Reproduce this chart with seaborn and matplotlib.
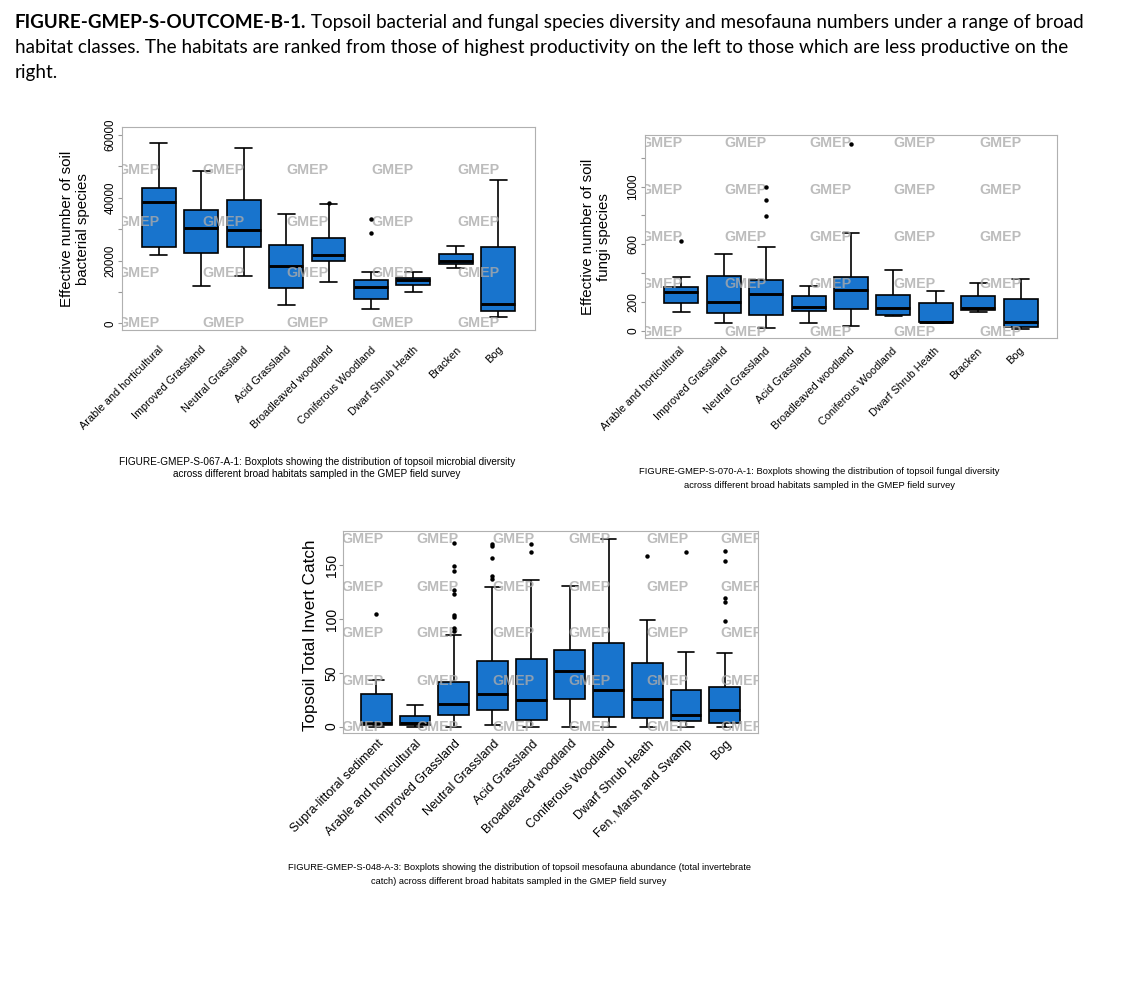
import pandas as pd
import seaborn as sns
import matplotlib.pyplot as plt
from matplotlib.transforms import blended_transform_factory, ScaledTranslation

W, H = 1125, 992
BLUE = "#1874CD"

bact_habitats = ["Arable and horticultural", "Improved Grassland", "Neutral Grassland",
                 "Acid Grassland", "Broadleaved woodland", "Coniferous Woodland",
                 "Dwarf Shrub Heath", "Bracken", "Bog"]
bact_low = [21600, 12000, 15100, 5700, 13300, 4500, 10100, 17500, 2100]
bact_q1 = [24400, 22500, 24400, 11200, 19900, 7700, 12100, 18800, 3800]
bact_med = [38800, 30200, 29700, 18400, 21800, 11600, 13800, 20000, 6000]
bact_q3 = [43000, 36100, 39300, 24900, 27200, 13900, 14400, 22200, 24200]
bact_high = [57500, 48400, 55700, 34900, 37900, 16300, 16300, 24500, 45700]
bact_out = {"Broadleaved woodland": [38300], "Coniferous Woodland": [33200, 28800]}

# top right: fungal diversity
fungi_habitats = bact_habitats
fungi_low = [132, 53, 16, 53, 32, 102, 53, 130, 14]
fungi_q1 = [194, 120, 109, 134, 150, 111, 57, 141, 28]
fungi_med = [269, 199, 252, 167, 280, 157, 60, 157, 60]
fungi_q3 = [303, 380, 350, 241, 370, 248, 190, 243, 220]
fungi_high = [375, 535, 579, 310, 678, 421, 278, 329, 359]
fungi_out = {"Arable and horticultural": [623], "Neutral Grassland": [1000, 907, 794],
             "Broadleaved woodland": [1299]}

# bottom: mesofauna abundance
inv_habitats = ["Supra-littoral sediment", "Arable and horticultural", "Improved Grassland",
                "Neutral Grassland", "Acid Grassland", "Broadleaved woodland",
                "Coniferous Woodland", "Dwarf Shrub Heath", "Fen, Marsh and Swamp", "Bog"]
inv_low = [0, 0, 0, 1, 0, 0, 0, 0, 0, 0]
inv_q1 = [1, 1, 10.6, 15.2, 6.5, 25.5, 8.7, 7.5, 5.3, 3.1]
inv_med = [3, 3, 21, 30, 24.5, 52, 34, 26, 11, 15]
inv_q3 = [30, 10, 41.5, 61, 63, 71, 78, 59, 34, 36.5]
inv_high = [43, 20, 85, 130, 136, 131, 174.5, 99, 69, 68]
inv_out = {"Supra-littoral sediment": [105],
           "Improved Grassland": [171, 149, 145, 127, 123, 104, 102, 92, 89],
           "Neutral Grassland": [170, 168, 157, 140, 137],
           "Acid Grassland": [170, 162],
           "Dwarf Shrub Heath": [159],
           "Fen, Marsh and Swamp": [162],
           "Bog": [163, 154, 120, 115.5, 98]}

sns.set_theme(style="white")
plt.rcParams["font.family"] = ["Liberation Sans", "DejaVu Sans"]
plt.rcParams["text.color"] = "black"
plt.rcParams["ytick.color"] = "black"

fig = plt.figure(figsize=(W / 100, H / 100), dpi=100)
fig.patch.set_facecolor("white")


def px_axes(left, top, right, bottom):
    return fig.add_axes([left / W, 1 - bottom / H, (right - left) / W, (bottom - top) / H])


def boxpanel(ax, habitats, low, q1, med, q3, high, outliers, ylim, yticks, ylabels,
             ytick_fs, xlab_fs, dx, dy, wm_cols, wm_rows):
    rows = []
    for i, h in enumerate(habitats):
        for v in (low[i], q1[i], med[i], q3[i], high[i]):
            rows.append((h, v))
    df = pd.DataFrame(rows, columns=["habitat", "value"])
    sns.boxplot(data=df, x="habitat", y="value", order=habitats, whis=(0, 100),
                color=BLUE, saturation=1, linecolor="black", linewidth=1.2,
                width=0.8, showfliers=False,
                medianprops=dict(linewidth=2.1, color="black"), ax=ax)
    orows = [(h, v) for h, vals in outliers.items() for v in vals]
    odf = pd.DataFrame(orows, columns=["habitat", "value"])
    sns.stripplot(data=odf, x="habitat", y="value", order=habitats, jitter=False,
                  color="black", size=3.2, ax=ax, zorder=6)

    n = len(habitats)
    ax.set_xlim(-0.86, n - 1 + 0.86)
    ax.set_ylim(*ylim)
    ax.set_xlabel("")
    ax.set_ylabel("")
    ax.set_yticks(yticks)
    ax.set_yticklabels(ylabels)
    ax.tick_params(axis="x", length=0, labelbottom=False)
    ax.tick_params(axis="y", left=True, length=3, width=0.8, color="#999999", pad=1,
                   labelsize=ytick_fs, labelrotation=90, labelcolor="black")
    for lab in ax.get_yticklabels():
        lab.set_va("center")
    for sp in ax.spines.values():
        sp.set_color("#b0b0b0")
        sp.set_linewidth(0.8)

    trans = blended_transform_factory(ax.transData, ax.transAxes) + \
        ScaledTranslation(dx / 100, -dy / 100, fig.dpi_scale_trans)
    for i, h in enumerate(habitats):
        ax.text(i, 0, h, transform=trans, rotation=45, ha="right", va="center",
                rotation_mode="anchor", fontsize=xlab_fs, clip_on=False)

    for cx in wm_cols:
        for ry in wm_rows:
            ax.text(cx, ry, "GMEP", transform=ax.transAxes, ha="center", va="center",
                    fontsize=10.3, fontweight="bold", color="#ababab", alpha=0.8,
                    clip_on=True, zorder=5)


ax1 = px_axes(122, 127, 535, 330)
boxpanel(ax1, bact_habitats, bact_low, bact_q1, bact_med, bact_q3, bact_high, bact_out,
         (-2150, 62550), list(range(0, 60001, 10000)),
         ["0", "", "20000", "", "40000", "", "60000"], 8.3, 7.8, 3, 18,
         [0.039, 0.245, 0.450, 0.656, 0.862], [0.788, 0.532, 0.281, 0.034])
fig.text(75 / W, 1 - 229 / H, "Effective number of soil\nbacterial species", rotation=90,
         ha="center", va="center", multialignment="center", fontsize=10.8)

ax2 = px_axes(645, 135, 1057, 338)
boxpanel(ax2, fungi_habitats, fungi_low, fungi_q1, fungi_med, fungi_q3, fungi_high, fungi_out,
         (-51, 1359), list(range(0, 1201, 200)),
         ["0", "200", "", "600", "", "1000", ""], 8.6, 7.8, 2, 11,
         [0.041, 0.243, 0.449, 0.655, 0.862], [0.961, 0.729, 0.498, 0.266, 0.030])
fig.text(596 / W, 1 - 237 / H, "Effective number of soil\nfungi species", rotation=90,
         ha="center", va="center", multialignment="center", fontsize=10.8)

ax3 = px_axes(343, 531, 758, 733)
boxpanel(ax3, inv_habitats, inv_low, inv_q1, inv_med, inv_q3, inv_high, inv_out,
         (-6, 182), [0, 50, 100, 150], ["0", "50", "100", "150"], 10, 9, 5, 9,
         [0.046, 0.227, 0.410, 0.595, 0.781, 0.961], [0.960, 0.723, 0.495, 0.257, 0.030])
ax3.tick_params(axis="y", pad=0)
fig.text(310 / W, 1 - 635 / H, "Topsoil Total Invert Catch", rotation=90,
         ha="center", va="center", fontsize=12.3)

renderer = fig.canvas.get_renderer()


def fit(t, target):
    w = t.get_window_extent(renderer).width
    t.set_fontsize(t.get_fontsize() * target / w)
    return t.get_fontsize()


# captions
captions = [
    (317, 462, 474, "FIGURE-GMEP-S-067-A-1: Boxplots showing the distribution of topsoil microbial diversity",
     "across different broad habitats sampled in the GMEP field survey", 400),
    (819, 472, 485, "FIGURE-GMEP-S-070-A-1: Boxplots showing the distribution of topsoil fungal diversity",
     "across different broad habitats sampled in the GMEP field survey", 365),
    (519, 868, 881, "FIGURE-GMEP-S-048-A-3: Boxplots showing the distribution of topsoil mesofauna abundance (total invertebrate",
     "catch) across different broad habitats sampled in the GMEP field survey", 469),
]
for cx, y1, y2, l1, l2, wid in captions:
    t1 = fig.text(cx / W, 1 - y1 / H, l1, ha="center", va="center", fontsize=6)
    fs = fit(t1, wid)
    fig.text(cx / W, 1 - y2 / H, l2, ha="center", va="center", fontsize=fs)

# heading
tfam = ["Lato", "DejaVu Sans"]
t2 = fig.text(15 / W, 1 - 53 / H,
              "habitat classes. The habitats are ranked from those of highest productivity "
              "on the left to those which are less productive on the",
              ha="left", va="baseline", fontsize=13, family=tfam)
hfs = fit(t2, 1052)
tb = fig.text(15 / W, 1 - 28 / H, "FIGURE-GMEP-S-OUTCOME-B-1.", ha="left", va="baseline",
              fontsize=hfs, fontweight="bold", family=tfam)
wb = tb.get_window_extent(renderer).width
fig.text((15 + wb) / W, 1 - 28 / H,
         " Topsoil bacterial and fungal species diversity and mesofauna numbers under a range of broad",
         ha="left", va="baseline", fontsize=hfs, family=tfam)
fig.text(15 / W, 1 - 78 / H, "right.", ha="left", va="baseline", fontsize=hfs, family=tfam)

fig.savefig("out.png", dpi=100, facecolor="white")
